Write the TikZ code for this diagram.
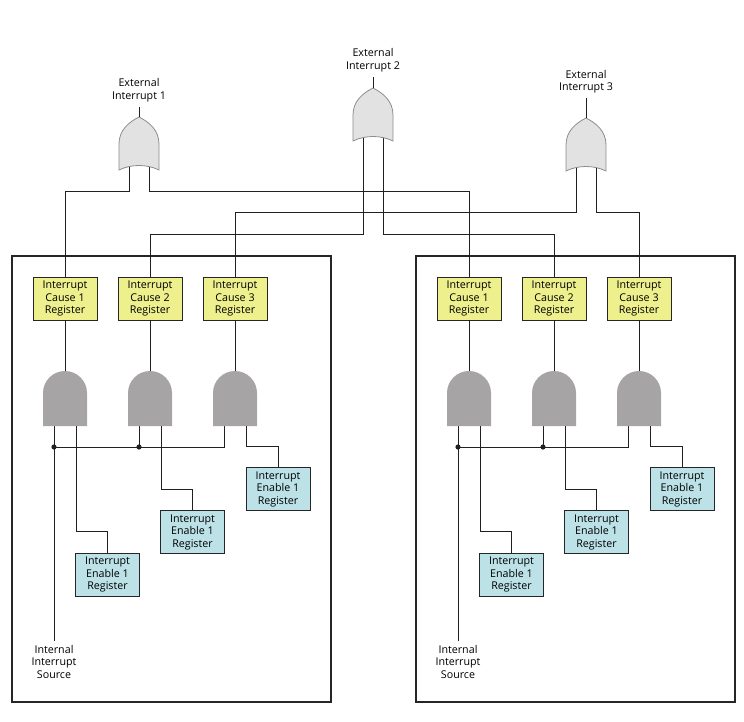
\documentclass[tikz,border=0pt]{standalone}
\usepackage{fontspec}
\setmainfont{Open Sans}
\usetikzlibrary{calc,shadows}
\definecolor{regyellow}{HTML}{EDF08C}
\definecolor{regblue}{HTML}{BCE2E8}
\definecolor{andgray}{HTML}{A6A4A5}
\definecolor{orgray}{HTML}{E2E2E2}
\definecolor{orline}{HTML}{8C8C8C}
\definecolor{wirecol}{HTML}{231F20}
\tikzset{
  wire/.style={draw=wirecol, line width=1pt},
  regbase/.style={draw=black!85, line width=0.9pt, minimum width=64pt, minimum height=43pt,
    inner sep=0pt, align=center, font=\fontsize{10.7}{12.5}\selectfont,
    drop shadow={shadow xshift=0.8pt, shadow yshift=-0.8pt, fill=black!45, opacity=1}},
  causereg/.style={regbase, fill=regyellow},
  enablereg/.style={regbase, fill=regblue},
  lbl/.style={align=center, font=\fontsize{10.7}{12.5}\selectfont, inner sep=1pt},
  panelbox/.style={draw=black!85, line width=1.1pt},
  dotmark/.style={fill=wirecol},
  andgate/.pic={
    \path[fill=andgray] (-22,0) -- (-22,-33)
      .. controls (-22,-45.15) and (-12.15,-55) .. (0,-55)
      .. controls (12.15,-55) and (22,-45.15) .. (22,-33) -- (22,0) -- cycle;
    \coordinate (-in1) at (-11,0);
    \coordinate (-in2) at (11,0);
    \coordinate (-out) at (0,-55);
  },
  orgate/.pic={
    \path[fill=orgray, draw=orline, line width=0.8pt] (-20,0) -- (-20,-26)
      .. controls (-20,-40) and (-10,-48) .. (0,-53)
      .. controls (10,-48) and (20,-40) .. (20,-26) -- (20,0)
      .. controls (8,-6) and (-8,-6) .. (-20,0) -- cycle;
    \coordinate (-in1) at (-10,-3.4);
    \coordinate (-in2) at (10,-3.4);
    \coordinate (-out) at (0,-53);
  }
}
\begin{document}
\begin{tikzpicture}[x=1pt,y=-1pt]
\useasboundingbox (0,0) rectangle (744,721);

\foreach \p/\dx in {L/0,R/404} {
  \begin{scope}[xshift=\dx pt]
    \draw[panelbox] (12,256) rectangle (331,702);
    \node[causereg] (cause\p1) at (65,298.5) {Interrupt\\Cause 1\\Register};
    \node[causereg] (cause\p2) at (150,298.5) {Interrupt\\Cause 2\\Register};
    \node[causereg] (cause\p3) at (235,298.5) {Interrupt\\Cause 3\\Register};
    \node[enablereg] (en\p1) at (107.5,574.5) {Interrupt\\Enable 1\\Register};
    \node[enablereg] (en\p2) at (192.5,532) {Interrupt\\Enable 1\\Register};
    \node[enablereg] (en\p3) at (278,489) {Interrupt\\Enable 1\\Register};
    \node[lbl, anchor=north] (int\p) at (54,644) {Internal\\Interrupt\\Source};
    \coordinate (dot\p1) at (54,447);
    \coordinate (dot\p2) at (139,447);
    % wires (drawn before gates)
    \draw[wire] (cause\p1.south) -- (65,371);
    \draw[wire] (cause\p2.south) -- (150,371);
    \draw[wire] (cause\p3.south) -- (235,371);
    \draw[wire, shorten >=3pt] (54,426) -- (int\p.north);
    \draw[wire] (224,426) |- (dot\p1);
    \draw[wire] (139,426) -- (dot\p2);
    \fill[dotmark] (dot\p1) circle (2.6);
    \fill[dotmark] (dot\p2) circle (2.6);
    \pic (and\p1) at (65,426) {andgate};
    \pic (and\p2) at (150,426) {andgate};
    \pic (and\p3) at (235,426) {andgate};
    \draw[wire] (and\p1-in2) |- ($(en\p1.north)+(0,-21)$) -| (en\p1.north);
    \draw[wire] (and\p2-in2) |- ($(en\p2.north)+(0,-21)$) -| (en\p2.north);
    \draw[wire] (and\p3-in2) |- ($(en\p3.north)+(0,-21)$) -| (en\p3.north);
  \end{scope}
}

% external interrupt labels
\node[lbl] (lab1) at (139,90) {External\\Interrupt 1};
\node[lbl] (lab2) at (373,60) {External\\Interrupt 2};
\node[lbl] (lab3) at (586,81.5) {External\\Interrupt 3};

% wires from OR gates to cause registers
\coordinate (or1-in1) at (129,166.6);
\coordinate (or1-in2) at (149,166.6);
\coordinate (or2-in1) at (363,137.6);
\coordinate (or2-in2) at (383,137.6);
\coordinate (or3-in1) at (576,167.6);
\coordinate (or3-in2) at (596,167.6);
\draw[wire] (or1-in1) |- ($(causeL1.north)+(0,-85)$) -| (causeL1.north);
\draw[wire] (or1-in2) |- ($(causeR1.north)+(0,-85)$) -| (causeR1.north);
\draw[wire] (or2-in1) |- ($(causeL2.north)+(0,-42)$) -| (causeL2.north);
\draw[wire] (or2-in2) |- ($(causeR2.north)+(0,-42)$) -| (causeR2.north);
\draw[wire] (or3-in1) |- ($(causeL3.north)+(0,-64)$) -| (causeL3.north);
\draw[wire] (or3-in2) |- ($(causeR3.north)+(0,-64)$) -| (causeR3.north);

% OR gates
\pic (or1) at (139,170) {orgate};
\pic (or2) at (373,141) {orgate};
\pic (or3) at (586,171) {orgate};

\draw[wire, shorten <=4pt] (lab1.south) -- (or1-out);
\draw[wire, shorten <=4pt] (lab2.south) -- (or2-out);
\draw[wire, shorten <=4pt] (lab3.south) -- (or3-out);
\end{tikzpicture}
\end{document}
